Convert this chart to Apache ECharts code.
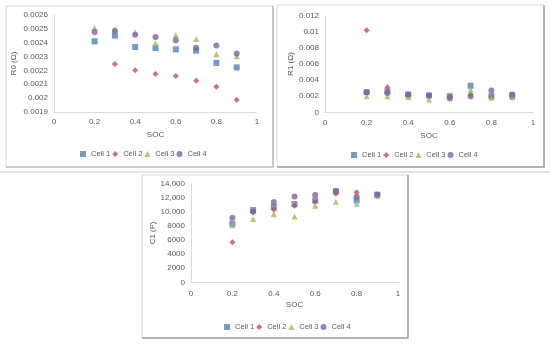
<!DOCTYPE html>
<html>
<head>
<meta charset="utf-8">
<script src="https://cdn.jsdelivr.net/npm/echarts@6/dist/echarts.min.js"></script>
<style>html,body{margin:0;padding:0;background:#fff;}#c{width:550px;height:344px;}</style>
</head>
<body>
<div id="c"></div>
<script>
var soc = [0.2, 0.3, 0.4, 0.5, 0.6, 0.7, 0.8, 0.9];
var cellNames = ['Cell 1', 'Cell 2', 'Cell 3', 'Cell 4'];
var xTicks = [0, 0.2, 0.4, 0.6, 0.8, 1];

// R0 (Ohm)
var r0Cell1 = [0.002410, 0.002451, 0.002369, 0.002362, 0.002352, 0.002343, 0.002254, 0.002222];
var r0Cell2 = [null, 0.002246, 0.002201, 0.002174, 0.002160, 0.002126, 0.002083, 0.001989];
var r0Cell3 = [0.002506, 0.002499, 0.002475, 0.002398, 0.002456, 0.002427, 0.002319, 0.002302];
var r0Cell4 = [0.002477, 0.002485, 0.002458, 0.002441, 0.002417, 0.002364, 0.002379, 0.002323];

// R1 (Ohm)
var r1Cell1 = [0.0025, 0.0026, 0.0022, 0.0021, 0.0020, 0.0033, 0.0020, 0.0021];
var r1Cell2 = [0.0102, 0.0031, 0.0021, 0.0020, 0.0019, 0.0022, 0.0019, 0.0018];
var r1Cell3 = [0.0020, 0.0020, 0.0019, 0.0016, 0.0017, 0.0028, 0.0018, 0.0019];
var r1Cell4 = [0.0025, 0.0024, 0.0022, 0.0021, 0.0018, 0.0020, 0.0027, 0.0022];

// C1 (F)
var c1Cell1 = [8320, 10260, 10690, 11110, 11630, 12910, 11630, 12430];
var c1Cell2 = [5670, 9930, 10300, 10870, 11390, 12580, 12770, 12250];
var c1Cell3 = [8090, 8980, 9650, 9360, 10870, 11440, 11160, 12290];
var c1Cell4 = [9170, 10070, 11390, 12200, 12390, 12950, 12150, 12480];

var colors = ['#4F81BD', '#C0504D', '#9BBB59', '#8064A2'];
var symbols = ['rect', 'diamond', 'triangle', 'circle'];
var sizes = [6, 6, 6, 6];
var FONT = 'Liberation Sans';
var TXT = '#595959';

function pairs(arr) {
  var out = [];
  for (var i = 0; i < soc.length; i++) { if (arr[i] !== null) out.push([soc[i], arr[i]]); }
  return out;
}
function trimNum(v) { return String(parseFloat(v.toFixed(5))); }

var panels = [
  {grid: {left: 54, top: 15, width: 203, height: 97}, ymin: 0.0019, ymax: 0.0026, yint: 0.0001,
   yname: 'R0 (\u03A9)', ynameGap: 36, xnameGap: 19, xlabMargin: 6, fmt: trimNum,
   data: [r0Cell1, r0Cell2, r0Cell3, r0Cell4], legend: {left: 75, top: 145}},
  {grid: {left: 325, top: 15.7, width: 208, height: 96.6}, ymin: 0, ymax: 0.012, yint: 0.002,
   yname: 'R1 (\u03A9)', ynameGap: 29, xnameGap: 19, xlabMargin: 6, fmt: trimNum,
   data: [r1Cell1, r1Cell2, r1Cell3, r1Cell4], legend: {left: 346, top: 146}},
  {grid: {left: 191, top: 183.7, width: 207, height: 98.6}, ymin: 0, ymax: 14000, yint: 2000,
   yname: 'C1 (F)', ynameGap: 34, xnameGap: 18, xlabMargin: 7,
   fmt: function (v) { return v >= 10000 ? v.toLocaleString('en-US') : String(v); },
   data: [c1Cell1, c1Cell2, c1Cell3, c1Cell4], legend: {left: 219, top: 318}}
];

var option = {
  animation: false,
  backgroundColor: '#fff',
  grid: [], xAxis: [], yAxis: [], series: [], legend: [],
  graphic: [
    {type: 'line', shape: {x1: 0, y1: 172, x2: 550, y2: 172}, style: {stroke: '#c8c8c8', lineWidth: 1}, z: 0},
    {type: 'rect', shape: {x: 6, y: 6, width: 267, height: 161}, style: {fill: '#fff', stroke: '#d9d9d9', lineWidth: 1}, z: 0},
    {type: 'rect', shape: {x: 277, y: 5, width: 267, height: 162}, style: {fill: '#fff', stroke: '#d9d9d9', lineWidth: 1}, z: 0},
    {type: 'rect', shape: {x: 142, y: 175, width: 266, height: 163}, style: {fill: '#fff', stroke: '#d9d9d9', lineWidth: 1}, z: 0},
    {type: 'polyline', shape: {points: [[273, 6], [273, 167], [6, 167]]}, style: {stroke: '#b0b0b0', lineWidth: 1.2, fill: null}, z: 1},
    {type: 'polyline', shape: {points: [[544, 5], [544, 167], [277, 167]]}, style: {stroke: '#a0a0a0', lineWidth: 1.5, fill: null}, z: 1},
    {type: 'polyline', shape: {points: [[408, 175], [408, 338], [142, 338]]}, style: {stroke: '#a0a0a0', lineWidth: 1.5, fill: null}, z: 1}
  ]
};

panels.forEach(function (p, gi) {
  option.grid.push(p.grid);
  option.xAxis.push({
    type: 'value', gridIndex: gi, min: xTicks[0], max: xTicks[xTicks.length - 1], interval: 0.2,
    name: 'SOC', nameLocation: 'middle', nameGap: p.xnameGap,
    nameTextStyle: {color: TXT, fontFamily: FONT, fontSize: 8},
    axisLine: {show: true, lineStyle: {color: '#d9d9d9'}},
    axisTick: {show: false}, splitLine: {show: false},
    axisLabel: {color: TXT, fontFamily: FONT, fontSize: 8, margin: p.xlabMargin,
      formatter: function (v) { return String(parseFloat(v.toFixed(2))); }}
  });
  option.yAxis.push({
    type: 'value', gridIndex: gi, min: p.ymin, max: p.ymax, interval: p.yint,
    name: p.yname, nameLocation: 'middle', nameGap: p.ynameGap, nameRotate: 90,
    nameTextStyle: {color: TXT, fontFamily: FONT, fontSize: 8},
    axisLine: {show: true, lineStyle: {color: '#d9d9d9'}},
    axisTick: {show: false}, splitLine: {show: false},
    axisLabel: {color: TXT, fontFamily: FONT, fontSize: 8, margin: 6, formatter: p.fmt}
  });
  var legendData = [];
  cellNames.forEach(function (nm, si) {
    option.series.push({
      name: nm, type: 'scatter', xAxisIndex: gi, yAxisIndex: gi,
      data: pairs(p.data[si]), symbol: symbols[si], symbolSize: sizes[si],
      itemStyle: {color: colors[si]}, z: 3 + si
    });
    legendData.push({name: nm, icon: symbols[si]});
  });
  option.legend.push({
    data: legendData, left: p.legend.left, top: p.legend.top, orient: 'horizontal',
    itemWidth: 6, itemHeight: 6, itemGap: 2, selectedMode: false,
    textStyle: {color: TXT, fontFamily: FONT, fontSize: 7.5}
  });
});

var chart = echarts.init(document.getElementById('c'), null, {renderer: 'canvas'});
chart.setOption(option);
</script>
</body>
</html>
